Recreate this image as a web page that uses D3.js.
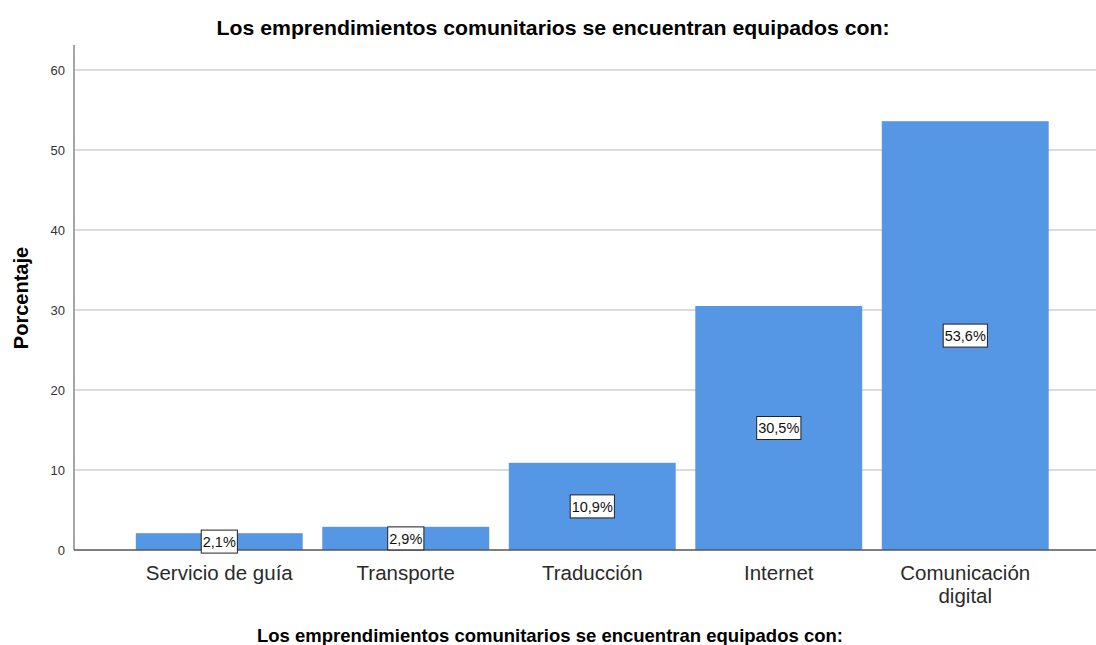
<!DOCTYPE html>
<html><head><meta charset="utf-8">
<script src="https://cdn.jsdelivr.net/npm/d3@7"></script>
<style>body{margin:0;background:#fff}svg{display:block}text{font-family:"Liberation Sans",Arial,sans-serif}</style>
</head><body>
<svg id="c" width="1096" height="645"></svg>
<script>
const categories = ["Servicio de guía","Transporte","Traducción","Internet","Comunicación digital"];
const values = [2.1, 2.9, 10.9, 30.5, 53.6];
const labels = ["2,1%","2,9%","10,9%","30,5%","53,6%"];
const yTicks = [0,10,20,30,40,50,60];
const title = "Los emprendimientos comunitarios se encuentran equipados con:";

const svg = d3.select("#c");
const y = d3.scaleLinear().domain([0,60]).range([550,70]);
const x = d3.scaleBand().domain(categories).range([126,1058.5]).paddingInner(0.105).paddingOuter(0.0525);

// gridlines
svg.append("g").selectAll("line").data(yTicks.filter(d=>d>0)).join("line")
  .attr("x1",75).attr("x2",1096).attr("y1",d=>y(d)).attr("y2",d=>y(d))
  .attr("stroke","#cfcfcf").attr("stroke-width",1.5);

// bars
svg.append("g").selectAll("rect").data(values).join("rect")
  .attr("x",(d,i)=>x(categories[i])).attr("width",x.bandwidth())
  .attr("y",d=>y(d)).attr("height",d=>y(0)-y(d))
  .attr("fill","#5596e5");

// y axis
const ya = svg.append("g").attr("transform","translate(74,0)")
  .call(d3.axisLeft(y).tickValues(yTicks).tickSize(0).tickPadding(9));
ya.select(".domain").remove();
ya.selectAll("text").attr("font-size",13).attr("fill","#333").attr("font-family","Liberation Sans, Arial, sans-serif");
svg.append("line").attr("x1",74).attr("x2",74).attr("y1",45).attr("y2",550).attr("stroke","#888").attr("stroke-width",1.5);

// x axis
const xa = svg.append("g").attr("transform","translate(0,550)")
  .call(d3.axisBottom(x).tickSize(0).tickPadding(15));
xa.select(".domain").remove();
xa.selectAll("text").attr("font-size",20.5).attr("fill","#2a2a2a").attr("font-family","Liberation Sans, Arial, sans-serif")
  .each(function(d){
    const t=d3.select(this);
    if(d==="Comunicación digital"){
      t.text(null);
      t.append("tspan").attr("x",0).attr("dy","0.71em").text("Comunicación");
      t.append("tspan").attr("x",0).attr("dy","1.15em").text("digital");
      t.attr("dy",null);
    }
  });
svg.append("line").attr("x1",74).attr("x2",1096).attr("y1",550).attr("y2",550).attr("stroke","#555").attr("stroke-width",1.5);

// value labels
const lg = svg.append("g").selectAll("g").data(values).join("g")
  .attr("transform",(d,i)=>`translate(${x(categories[i])+x.bandwidth()/2},${y(d/2)})`);
lg.each(function(d,i){
  const g=d3.select(this);
  const t=g.append("text").attr("text-anchor","middle").attr("dy","0.36em").attr("font-size",14.5).attr("fill","#111").text(labels[i]);
  const b=t.node().getBBox();
  g.insert("rect","text").attr("x",b.x-1.5).attr("y",-11.5).attr("width",b.width+3).attr("height",23)
   .attr("fill","#fff").attr("stroke","#222").attr("stroke-width",1);
});

// titles
svg.append("text").attr("x",553).attr("y",35).attr("text-anchor","middle").attr("font-size",21).attr("font-weight","bold").attr("fill","#000").attr("textLength",673).attr("lengthAdjust","spacingAndGlyphs").text(title);
svg.append("text").attr("x",550).attr("y",642).attr("text-anchor","middle").attr("font-size",18.5).attr("font-weight","bold").attr("fill","#000").text(title);
svg.append("text").attr("transform","translate(28,298) rotate(-90)").attr("text-anchor","middle").attr("font-size",20).attr("font-weight","bold").attr("fill","#000").text("Porcentaje");
</script>
</body></html>
